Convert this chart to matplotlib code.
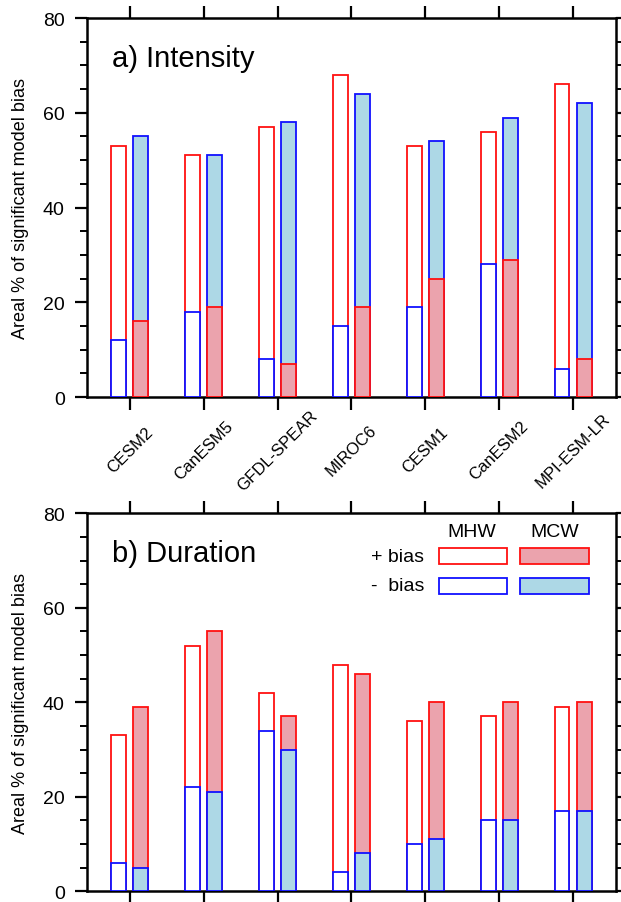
import matplotlib
matplotlib.use("Agg")
import matplotlib.pyplot as plt
import numpy as np
from matplotlib.patches import Rectangle
from matplotlib.ticker import MultipleLocator

plt.rcParams["font.family"] = ["Liberation Sans", "DejaVu Sans"]

models = ["CESM2", "CanESM5", "GFDL-SPEAR", "MIROC6", "CESM1", "CanESM2", "MPI-ESM-LR"]

# a) Intensity
int_mhw_pos = [53, 51, 57, 68, 53, 56, 66]
int_mhw_neg = [12, 18, 8, 15, 19, 28, 6]
int_mcw_pos = [16, 19, 7, 19, 25, 29, 8]
int_mcw_neg = [55, 51, 58, 64, 54, 59, 62]

# b) Duration
dur_mhw_pos = [33, 52, 42, 48, 36, 37, 39]
dur_mhw_neg = [6, 22, 34, 4, 10, 15, 17]
dur_mcw_pos = [39, 55, 37, 46, 40, 40, 40]
dur_mcw_neg = [5, 21, 30, 8, 11, 15, 17]

RED = "#FF1010"
BLUE = "#1010FF"
PINK = "#EBA3AD"
LBLUE = "#ADD8E6"
LW = 1.3
SPINE_LW = 1.8


def draw_pair(ax, xpos, pos, neg, fill_pos, fill_neg):
    bp = ax.bar(xpos, pos, width=0.2, facecolor=fill_pos, edgecolor=RED, linewidth=LW)
    bn = ax.bar(xpos, neg, width=0.2, facecolor=fill_neg, edgecolor=BLUE, linewidth=LW)
    # the smaller bar is drawn on top of the larger one
    for rp, rn, p, n in zip(bp, bn, pos, neg):
        if p >= n:
            rp.set_zorder(2); rn.set_zorder(3)
        else:
            rp.set_zorder(3); rn.set_zorder(2)


def style_axes(ax, title):
    ax.set_xlim(-0.58, len(models) - 0.42)
    ax.set_ylim(0, 80)
    ax.yaxis.set_major_locator(MultipleLocator(20))
    ax.yaxis.set_minor_locator(MultipleLocator(5))
    ax.set_xticks(np.arange(len(models)))
    ax.tick_params(axis="both", which="major", direction="out", length=9, width=1.6,
                   labelsize=14, top=True, right=True)
    ax.tick_params(axis="y", which="major", pad=7)
    ax.tick_params(axis="y", which="minor", direction="out", length=5, width=1.4,
                   left=True, right=True)
    ax.tick_params(axis="x", which="minor", bottom=False, top=False)
    for s in ax.spines.values():
        s.set_linewidth(SPINE_LW)
    ax.set_ylabel("Areal % of significant model bias", fontsize=13, labelpad=10)
    ax.text(0.047, 0.873, title, transform=ax.transAxes, fontsize=21, ha="left",
            va="baseline")


fig = plt.figure(figsize=(6.21, 9.03), dpi=100)
ax1 = fig.add_axes([0.140, 0.5592, 0.852, 0.4197])
ax2 = fig.add_axes([0.140, 0.01185, 0.852, 0.4186])

x = np.arange(len(models))
draw_pair(ax1, x - 0.15, int_mhw_pos, int_mhw_neg, "white", "white")
draw_pair(ax1, x + 0.15, int_mcw_pos, int_mcw_neg, PINK, LBLUE)
draw_pair(ax2, x - 0.15, dur_mhw_pos, dur_mhw_neg, "white", "white")
draw_pair(ax2, x + 0.15, dur_mcw_pos, dur_mcw_neg, PINK, LBLUE)

style_axes(ax1, "a) Intensity")
style_axes(ax2, "b) Duration")

ax1.set_xticklabels(models, rotation=45, ha="center", va="center", fontsize=12)
ax1.tick_params(axis="x", which="major", pad=29)
ax2.set_xticklabels([])

# legend drawn by hand
ax2.text(0.728, 0.951, "MHW", transform=ax2.transAxes, fontsize=14, ha="center", va="center")
ax2.text(0.885, 0.951, "MCW", transform=ax2.transAxes, fontsize=14, ha="center", va="center")
ax2.text(0.637, 0.887, "+ bias", transform=ax2.transAxes, fontsize=14, ha="right", va="center")
ax2.text(0.637, 0.808, "-  bias", transform=ax2.transAxes, fontsize=14, ha="right", va="center")
legend_boxes = [
    (0.665, 0.866, "white", RED), (0.819, 0.866, PINK, RED),
    (0.665, 0.787, "white", BLUE), (0.819, 0.787, LBLUE, BLUE),
]
for bx, by, fc, ec in legend_boxes:
    ax2.add_patch(Rectangle((bx, by), 0.129, 0.042, transform=ax2.transAxes,
                            facecolor=fc, edgecolor=ec, linewidth=LW, zorder=4))

fig.savefig("out.png", dpi=100, facecolor="white")
